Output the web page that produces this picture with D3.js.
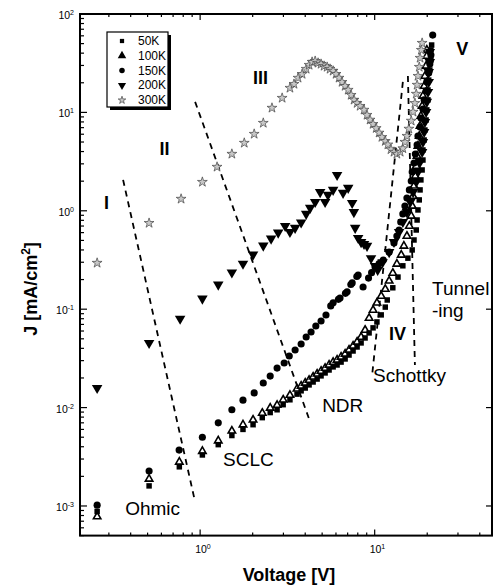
<!DOCTYPE html>
<html>
<head>
<meta charset="utf-8">
<script src="https://cdn.jsdelivr.net/npm/d3@7"></script>
<style>
  body { margin: 0; background: #fff; }
  svg { display: block; font-family: "Liberation Sans", Arial, sans-serif; }
</style>
</head>
<body>
<div id="chart"></div>
<script>
// J-V data [V, J(mA/cm2)]
const temps = ['50K', '100K', '150K', '200K', '300K']

const s50 = [[0.257,0.00088],[0.51,0.0016],[0.76,0.0025],[1.03,0.0033],[1.27,0.0042],[1.52,0.0052],[1.76,0.006],[2.01,0.0067],[2.27,0.0079],[2.52,0.0089],[2.76,0.0095],[2.99,0.0107],[3.27,0.012],
  [3.59,0.0137],[3.79,0.0148],[4.0,0.0158],[4.21,0.017],[4.44,0.0182],[4.68,0.0195],[4.93,0.021],[5.2,0.0225],[5.48,0.0241],[5.78,0.0259],[6.09,0.0271],[6.42,0.029],[6.77,0.0312],[7.13,0.0342],[7.52,0.0376],[7.93,0.0413],[8.36,0.0454],[8.81,0.051],[9.29,0.0574],[9.79,0.0646],[10.3,0.0742],[10.9,0.0875],[11.5,0.105],
  [11.8,0.124],[12.7,0.165],[13.6,0.212],[14.5,0.276],[15.5,0.33],
  [16.4,0.40],[16.8,0.505],[17.3,0.638],[17.5,0.806],[17.7,1.02],[18.0,1.29],[18.2,1.63],[18.4,2.06],[18.7,2.6],[18.9,3.28],[18.9,4.15],[19.2,5.24],[19.4,6.62],[19.7,8.37],[19.9,10.6],[20.2,13.4],[20.2,16.9],[20.4,21.3],[20.7,27],[21.0,34.1],[21.0,43.1],[21.2,48.4]]

const s100 = [[0.257,0.00078],[0.51,0.00188],[0.76,0.0028],[1.03,0.0036],[1.27,0.0046],[1.52,0.0058],[1.76,0.0067],[2.01,0.0075],[2.27,0.0088],[2.52,0.0099],[2.76,0.0106],[2.99,0.012],[3.27,0.0134],
  [3.59,0.0155],[3.79,0.0166],[4.0,0.0178],[4.21,0.019],[4.44,0.0205],[4.68,0.022],[4.93,0.0235],[5.2,0.0252],[5.48,0.0271],[5.78,0.029],[6.09,0.0305],[6.42,0.0327],[6.77,0.0351],[7.13,0.0385],[7.52,0.0423],[7.93,0.0464],[8.36,0.0521],[8.81,0.0614],
  [9.29,0.0813],[9.79,0.098],[10.3,0.116],[10.9,0.136],[11.5,0.16],[12.1,0.194],[12.7,0.233],[13.4,0.288],[14.2,0.356],[14.7,0.439],[15.3,0.554],
  [15.8,0.70],[16.2,0.885],[16.4,1.12],[16.6,1.41],[16.8,1.79],[17.1,2.26],[17.3,2.85],[17.5,3.61],[17.7,4.56],[18.0,5.75],[18.2,7.27],[18.4,9.19],[18.7,11.6],[18.9,14.7],[19.2,18.5],[19.4,23.4],[19.7,29.6],[19.9,37.4],[19.9,43.1]]

const s150 = [[0.257,0.00102],[0.51,0.00227],[0.758,0.0037],[1.03,0.005],[1.27,0.007],[1.52,0.0095],[1.76,0.0119],[2.04,0.0141],[2.3,0.0178],[2.52,0.0209],[2.76,0.0252],[3.03,0.0284],[3.24,0.0334],[3.5,0.0385],[3.79,0.0443],[4.05,0.0521],[4.32,0.0586],[4.6,0.0675],[4.93,0.0759],[5.26,0.0873],
  [5.6,0.108],[5.78,0.116],[6.2,0.126],[6.33,0.13],[6.8,0.145],[6.95,0.15],[7.3,0.178],[7.43,0.185],[7.9,0.215],[8.04,0.222],[8.58,0.168],[9.22,0.207],[9.6,0.235],[10.05,0.268],[10.6,0.29],[11.2,0.316],
  [12.1,0.38],[12.9,0.47],[13.4,0.555],[13.8,0.638],[14.1,0.77],[14.5,0.93],[14.9,1.12],[15.3,1.35],[15.8,1.63],[16.2,2.01],[16.4,2.48],[16.8,3.06],[17.1,3.78],[17.5,4.67],[17.7,5.75],[18.2,7.1],[18.4,8.77],[18.9,10.8],[19.2,13.4],[19.7,16.5],[19.9,20.4],[20.4,25.1],[20.7,31],[21.0,38.3],[21.5,61]]

const s200 = [[0.257,0.0158],[0.51,0.0454],[0.768,0.08],[1.03,0.128],[1.27,0.178],[1.52,0.236],[1.76,0.29],[2.01,0.359],[2.3,0.443],[2.55,0.521],[2.8,0.6],[3.07,0.7],[3.27,0.61],[3.5,0.67],[3.79,0.76],[4.05,0.93],[4.27,1.07],[4.56,1.23],[4.87,1.55],[5.2,1.23],[5.4,1.45],[5.78,1.63],[6.09,2.31],[6.59,1.52],[7.05,1.71],[7.43,1.2],[7.6,0.97],[7.73,0.67],[8.04,0.53],[8.36,0.48],[8.69,0.46],[9.04,0.44],[9.53,0.33],[10.05,0.275],[10.4,0.25],
  [11.1,0.30],[12.1,0.38],[12.9,0.482],[13.8,0.609],[14.5,0.77],[15.3,0.97],[16.0,1.23],[16.6,1.55],[17.3,1.96],[17.7,2.48],[18.2,3.13],[18.7,3.96],[18.9,5.0],[19.2,6.32],[19.4,7.98],[19.7,10.1],[19.9,12.8],[20.2,16.1],[20.4,20.4],[20.4,25.7],[20.7,32.5],[20.7,41.1]]

const s300 = [[0.257,0.295],[0.51,0.75],[0.778,1.32],[1.03,1.96],[1.25,2.79],[1.52,3.78],[1.79,4.89],[2.04,6.03],[2.3,7.8],[2.58,11.1],[2.95,14.0],[3.27,17.7],
  [3.45,19.4],[3.64,22.4],[3.84,24.5],[4.05,27.6],[4.21,30.3],[4.38,32.5],[4.56,33.2],[4.74,31.8],[4.93,31.0],[5.13,29.6],[5.34,28.9],[5.55,27.6],[5.78,26.4],[6.01,24.5],[6.25,22.4],[6.5,20.3],[6.77,18.5],[7.05,16.9],[7.33,15.0],[7.62,13.4],[7.93,12.4],[8.25,11.6],[8.69,10.6],
  [9.04,9.4],[9.41,8.4],[9.79,7.6],[10.2,6.9],[10.6,6.2],[11.0,5.6],[11.5,5.1],[11.9,4.7],[12.4,4.2],[12.9,3.96],[13.4,3.78],[14.0,3.96],[14.5,4.3],[14.9,5.0],[15.3,5.75],[15.7,6.8],[16.2,8.2],[16.6,10.1],[17.0,12.4],[17.3,15.4],[17.5,19.0],[17.7,23.4],[18.0,28.9],[18.2,35.7],[18.5,43],[18.7,50.7]]

// dashed region boundaries, [V, J] end points
const bounds = [
  [[0.362, 2.06], [0.936, 0.0011]],
  [[0.936, 12.8], [4.27, 0.00714]],
  [[14.5, 20.4], [9.67, 0.0214]],
  [[15.5, 23.4], [17.0, 0.0271]]
]

const yTickExp = [-3, -2, -1, 0, 1, 2]
const xTickExp = [0, 1]

const margin = { left: 80, right: 4, top: 14, bottom: 49.4 }
const width = 496 - margin.left - margin.right
const height = 585 - margin.top - margin.bottom

const svg = d3.select('#chart').append('svg')
  .attr('width', 496)
  .attr('height', 585)

const g = svg.append('g')
  .attr('transform', `translate(${margin.left}, ${margin.top})`)

const x = d3.scaleLog().domain([0.205, 47]).range([0, width])
const y = d3.scaleLog().domain([5e-4, 100]).range([height, 0])

const isMajor = v => Math.abs(Math.log10(v) - Math.round(Math.log10(v))) < 1e-9

// ticks (inward)
const xt = x.ticks()
const yt = y.ticks()
const tickG = g.append('g').attr('stroke', '#000').attr('stroke-width', 1.2)
tickG.selectAll('.xb').data(xt).join('line')
  .attr('x1', d => x(d)).attr('x2', d => x(d))
  .attr('y1', height).attr('y2', d => height - (isMajor(d) ? 6 : 3))
tickG.selectAll('.xt').data(xt).join('line')
  .attr('x1', d => x(d)).attr('x2', d => x(d))
  .attr('y1', 0).attr('y2', d => isMajor(d) ? 6 : 3)
tickG.selectAll('.yl').data(yt).join('line')
  .attr('y1', d => y(d)).attr('y2', d => y(d))
  .attr('x1', 0).attr('x2', d => isMajor(d) ? 7 : 4)
tickG.selectAll('.yr').data(yt.filter(isMajor)).join('line')
  .attr('y1', d => y(d)).attr('y2', d => y(d))
  .attr('x1', width).attr('x2', width - 6)

// tick labels
const yl = g.selectAll('.ylab').data(yTickExp).join('text')
  .attr('x', -6).attr('y', d => y(Math.pow(10, d)) + 5)
  .attr('text-anchor', 'end')
  .attr('font-size', '10.5px')
yl.append('tspan').text('10')
yl.append('tspan').attr('dy', -4).attr('font-size', '7px').text(d => d)

const xl = g.selectAll('.xlab').data(xTickExp).join('text')
  .attr('x', d => x(Math.pow(10, d)) - 5).attr('y', height + 17.5)
  .attr('font-size', '10.5px')
xl.append('tspan').text('10')
xl.append('tspan').attr('dy', -4).attr('font-size', '7px').text(d => d)

// frame
g.append('rect')
  .attr('width', width).attr('height', height)
  .attr('fill', 'none').attr('stroke', '#000').attr('stroke-width', 2)

// dashed boundaries
const line = d3.line().x(d => x(d[0])).y(d => y(d[1]))
g.selectAll('.bound').data(bounds).join('path')
  .attr('d', line)
  .attr('fill', 'none').attr('stroke', '#000')
  .attr('stroke-width', 1.8).attr('stroke-dasharray', '6,5')

// series
const styles = {
  '50K': { type: d3.symbolSquare, size: 30, rot: 0, fill: '#000', stroke: 'none', sw: 0 },
  '100K': { type: d3.symbolTriangle, size: 24, rot: 0, fill: '#fff', stroke: '#000', sw: 1.6 },
  '150K': { type: d3.symbolCircle, size: 40, rot: 0, fill: '#000', stroke: 'none', sw: 0 },
  '200K': { type: d3.symbolTriangle, size: 48, rot: 180, fill: '#000', stroke: 'none', sw: 0 },
  '300K': { type: d3.symbolStar, size: 30, rot: 0, fill: '#c8c8c8', stroke: '#444', sw: 0.7 }
}
const seriesData = { '50K': s50, '100K': s100, '150K': s150, '200K': s200, '300K': s300 }
const drawOrder = ['100K', '50K', '150K', '200K', '300K']

drawOrder.forEach(t => {
  const st = styles[t]
  g.append('g').selectAll('path').data(seriesData[t]).join('path')
    .attr('d', d3.symbol(st.type, st.size))
    .attr('transform', d => `translate(${x(d[0])}, ${y(d[1])}) rotate(${st.rot})`)
    .attr('fill', st.fill).attr('stroke', st.stroke).attr('stroke-width', st.sw)
})

// legend
const legend = g.append('g').attr('transform', 'translate(27, 18)')
legend.append('rect').attr('x', 3).attr('y', 3).attr('width', 61).attr('height', 75).attr('fill', '#000')
legend.append('rect').attr('width', 61).attr('height', 75)
  .attr('fill', '#fff').attr('stroke', '#000').attr('stroke-width', 1.2)
temps.forEach((t, i) => {
  const st = styles[t]
  const row = legend.append('g').attr('transform', `translate(0, ${13 + i * 14.8})`)
  row.append('path')
    .attr('d', d3.symbol(st.type, st.size * 0.6))
    .attr('transform', `translate(15, -4) rotate(${st.rot})`)
    .attr('fill', t === '100K' ? '#000' : st.fill).attr('stroke', st.stroke).attr('stroke-width', st.sw)
  row.append('text')
    .attr('x', 31).attr('font-size', '12px')
    .text(t)
})

// region labels
const roman = [['I', 0.291, 1.04], ['II', 0.626, 3.69], ['III', 2.22, 19.4], ['IV', 13.5, 0.0486], ['V', 31.7, 38.3]]
roman.forEach(r => {
  g.append('text')
    .attr('x', x(r[1])).attr('y', y(r[2]))
    .attr('text-anchor', 'middle').attr('font-weight', 'bold').attr('font-size', '18px')
    .text(r[0])
})
const notes = [['Ohmic', 0.372, 0.00081], ['SCLC', 1.354, 0.00255], ['NDR', 5.0, 0.009],
  ['Schottky', 9.79, 0.0182], ['Tunnel', 21.3, 0.139], ['-ing', 21.3, 0.0834]]
notes.forEach(n => {
  g.append('text')
    .attr('x', x(n[1])).attr('y', y(n[2]))
    .attr('font-size', '19px')
    .text(n[0])
})

// axis titles
g.append('text')
  .attr('x', 209).attr('y', height + 45)
  .attr('text-anchor', 'middle').attr('font-weight', 'bold').attr('font-size', '18px')
  .text('Voltage [V]')

const yTitle = g.append('text')
  .attr('transform', `translate(-43, ${275}) rotate(-90)`)
  .attr('text-anchor', 'middle').attr('font-weight', 'bold').attr('font-size', '18px')
yTitle.append('tspan').text('J [mA/cm')
yTitle.append('tspan').attr('dy', -7).attr('font-size', '12px').text('2')
yTitle.append('tspan').attr('dy', 7).text(']')
</script>
</body>
</html>
